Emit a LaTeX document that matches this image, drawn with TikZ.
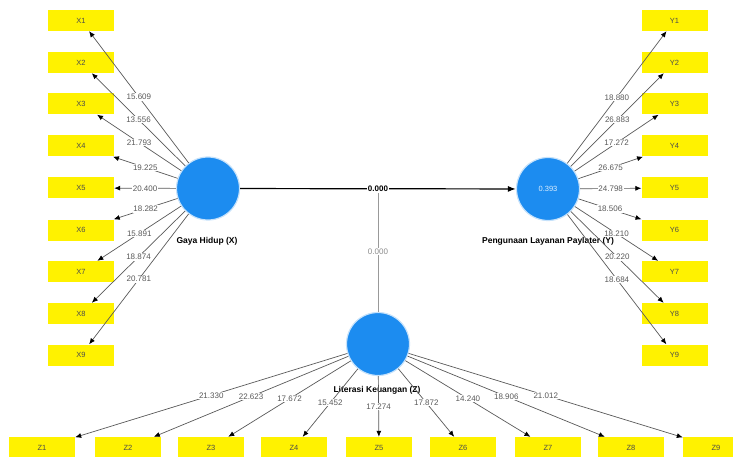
\documentclass[tikz,border=0pt]{standalone}
\usepackage{fontspec}
\setmainfont{Liberation Sans}
\usetikzlibrary{arrows.meta}
\definecolor{plsblue}{RGB}{28,140,240}
\definecolor{plsyellow}{RGB}{255,242,0}
\tikzset{
	indbox/.style={fill=plsyellow, minimum width=66pt, minimum height=21pt, inner sep=0pt, text=black!70, font=\fontsize{7.5}{8}\selectfont},
	latent/.style={circle, fill=plsblue, draw=plsblue!25, line width=1.2pt, minimum size=63pt, inner sep=0pt, text=white!85!plsblue, font=\fontsize{7.5}{8}\selectfont},
	lvname/.style={font=\bfseries\fontsize{8.5}{9}\selectfont},
	loadline/.style={draw=black!65, line width=0.7pt, -{Latex[length=6pt, width=5pt, color=black]}},
	loadlbl/.style={fill=white, inner sep=0.8pt, text=black!65, font=\fontsize{8}{8}\selectfont},
}

\begin{document}
\begin{tikzpicture}[x=1pt, y=-1pt]
		%%%%% START %%%%%
		\useasboundingbox (0, 0) rectangle (733, 457);
		
		\node[latent] (gh) at (208, 188.5) {};
		\node[latent] (plp) at (548, 189) {0.393};
		\node[latent] (lk) at (378, 344) {};
		
		\node[lvname] at (207, 241) {Gaya Hidup (X)};
		\node[lvname] at (548, 241) {Pengunaan Layanan Paylater (Y)};
		\node[lvname] at (377, 390) {Literasi Keuangan (Z)};
		
		% indikator X
		\node[indbox] (x1) at (81, 20.5) {X1};
		\node[indbox] (x2) at (81, 62.5) {X2};
		\node[indbox] (x3) at (81, 104) {X3};
		\node[indbox] (x4) at (81, 146) {X4};
		\node[indbox] (x5) at (81, 188) {X5};
		\node[indbox] (x6) at (81, 230) {X6};
		\node[indbox] (x7) at (81, 271.5) {X7};
		\node[indbox] (x8) at (81, 313.5) {X8};
		\node[indbox] (x9) at (81, 355) {X9};
		
		% indikator Y
		\node[indbox] (y1) at (674.5, 20.5) {Y1};
		\node[indbox] (y2) at (674.5, 62.5) {Y2};
		\node[indbox] (y3) at (674.5, 104) {Y3};
		\node[indbox] (y4) at (674.5, 146) {Y4};
		\node[indbox] (y5) at (674.5, 188) {Y5};
		\node[indbox] (y6) at (674.5, 230) {Y6};
		\node[indbox] (y7) at (674.5, 271.5) {Y7};
		\node[indbox] (y8) at (674.5, 313.5) {Y8};
		\node[indbox] (y9) at (674.5, 355) {Y9};
		
		% indikator Z
		\node[indbox] (z1) at (42, 447.5) {Z1};
		\node[indbox] (z2) at (128, 447.5) {Z2};
		\node[indbox] (z3) at (211, 447.5) {Z3};
		\node[indbox] (z4) at (294, 447.5) {Z4};
		\node[indbox] (z5) at (379, 447.5) {Z5};
		\node[indbox] (z6) at (463, 447.5) {Z6};
		\node[indbox] (z7) at (548, 447.5) {Z7};
		\node[indbox] (z8) at (631, 447.5) {Z8};
		\node[indbox] (z9) at (716, 447.5) {Z9};
		
		\draw[loadline] (gh) -- (x1) node[loadlbl, pos=0.5] {15.609};
		\draw[loadline] (gh) -- (x2) node[loadlbl, pos=0.5] {13.556};
		\draw[loadline] (gh) -- (x3) node[loadlbl, pos=0.5] {21.793};
		\draw[loadline] (gh) -- (x4) node[loadlbl, pos=0.5] {19.225};
		\draw[loadline] (gh) -- (x5) node[loadlbl, pos=0.5] {20.400};
		\draw[loadline] (gh) -- (x6) node[loadlbl, pos=0.5] {18.282};
		\draw[loadline] (gh) -- (x7) node[loadlbl, pos=0.5] {15.891};
		\draw[loadline] (gh) -- (x8) node[loadlbl, pos=0.5] {18.874};
		\draw[loadline] (gh) -- (x9) node[loadlbl, pos=0.5] {20.781};
		
		\draw[loadline] (plp) -- (y1) node[loadlbl, pos=0.5] {18.880};
		\draw[loadline] (plp) -- (y2) node[loadlbl, pos=0.5] {26.883};
		\draw[loadline] (plp) -- (y3) node[loadlbl, pos=0.5] {17.272};
		\draw[loadline] (plp) -- (y4) node[loadlbl, pos=0.5] {26.675};
		\draw[loadline] (plp) -- (y5) node[loadlbl, pos=0.5] {24.798};
		\draw[loadline] (plp) -- (y6) node[loadlbl, pos=0.5] {18.506};
		\draw[loadline] (plp) -- (y7) node[loadlbl, pos=0.5] {18.210};
		\draw[loadline] (plp) -- (y8) node[loadlbl, pos=0.5] {20.220};
		\draw[loadline] (plp) -- (y9) node[loadlbl, pos=0.5] {18.684};
		
		\draw[loadline] (lk) -- (z1) node[loadlbl, pos=0.5] {21.330};
		\draw[loadline] (lk) -- (z2) node[loadlbl, pos=0.5] {22.623};
		\draw[loadline] (lk) -- (z3) node[loadlbl, pos=0.5] {17.672};
		\draw[loadline] (lk) -- (z4) node[loadlbl, pos=0.5] {15.452};
		\draw[loadline] (lk) -- (z5) node[loadlbl, pos=0.5] {17.274};
		\draw[loadline] (lk) -- (z6) node[loadlbl, pos=0.5] {17.872};
		\draw[loadline] (lk) -- (z7) node[loadlbl, pos=0.5] {14.240};
		\draw[loadline] (lk) -- (z8) node[loadlbl, pos=0.5] {18.906};
		\draw[loadline] (lk) -- (z9) node[loadlbl, pos=0.5] {21.012};
		
		% jalur moderasi
		\coordinate (mod) at (378, 191);
		\draw[black!40, line width=0.8pt] (lk) -- (mod) node[loadlbl, text=black!45, midway] {0.000};
		
		\draw[line width=1.2pt, -{Latex[length=8pt, width=6pt]}] (gh) -- (plp) node[fill=white, inner sep=1pt, font=\bfseries\fontsize{8}{8}\selectfont, midway] {0.000};
		
		%%%%% END %%%%%
	\end{tikzpicture}
\end{document}
